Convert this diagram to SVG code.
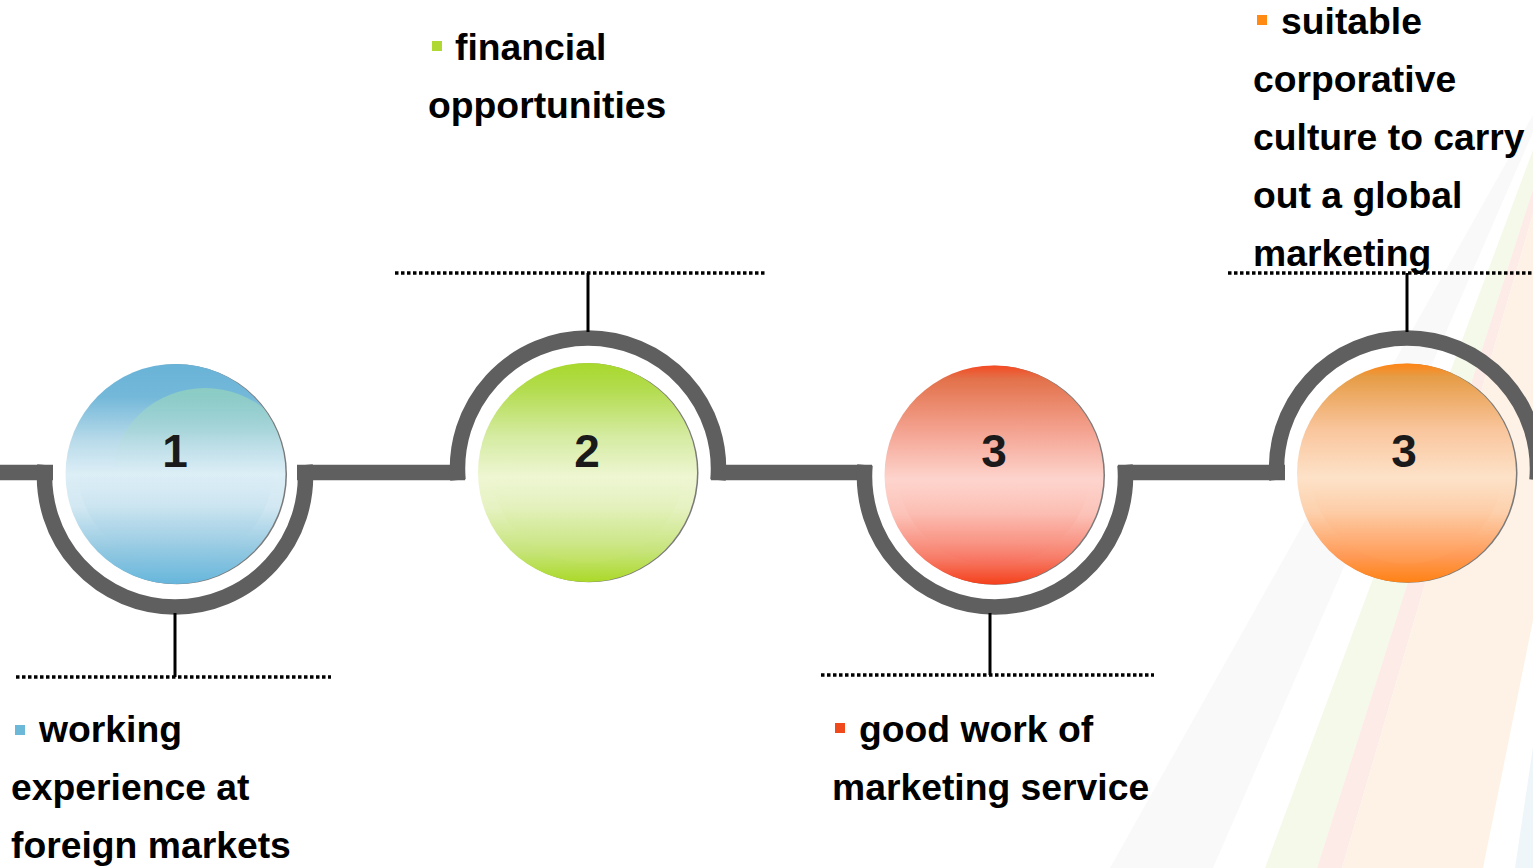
<svg xmlns="http://www.w3.org/2000/svg" width="1533" height="868" viewBox="0 0 1533 868">
  <style>
    .label { font-family: "Liberation Sans", Arial, sans-serif; font-weight: bold; font-size: 37.3px; fill: #000; }
    .num { font-family: "Liberation Sans", Arial, sans-serif; font-weight: bold; font-size: 46px; fill: #1a1a1a; text-anchor: middle; }
    .track { fill: none; stroke: #5f5f5f; stroke-width: 15.5; stroke-linecap: butt; }
    .stem { stroke: #000; stroke-width: 3; }
    .dots { stroke: #000; stroke-width: 3.5; stroke-dasharray: 3.5 2.5; }
    .shadow { fill: #7a7a7a; }
  </style>
  <defs>
    <!-- outer ball gradients -->
    <linearGradient id="gBlue" x1="0" y1="0" x2="0" y2="1">
      <stop offset="0" stop-color="#68b3d8"/>
      <stop offset="0.15" stop-color="#74b8d9"/>
      <stop offset="0.35" stop-color="#b9dbea"/>
      <stop offset="0.5" stop-color="#dceef6"/>
      <stop offset="0.65" stop-color="#d2e8f2"/>
      <stop offset="0.85" stop-color="#92c8e1"/>
      <stop offset="1" stop-color="#66b6dc"/>
    </linearGradient>
    <linearGradient id="gBlueIn" x1="0" y1="0" x2="0" y2="1">
      <stop offset="0" stop-color="#7fbfdc" stop-opacity="0"/>
      <stop offset="0.5" stop-color="#dceef6" stop-opacity="0"/>
      <stop offset="0.85" stop-color="#a5d1e6" stop-opacity="0.6"/>
      <stop offset="1" stop-color="#7dc0df" stop-opacity="0.9"/>
    </linearGradient>
    <linearGradient id="gTint" x1="0" y1="0" x2="0" y2="1">
      <stop offset="0" stop-color="#8fd0bf" stop-opacity="0.85"/>
      <stop offset="0.25" stop-color="#a9d9d0" stop-opacity="0.5"/>
      <stop offset="0.5" stop-color="#dceef6" stop-opacity="0"/>
    </linearGradient>
    <linearGradient id="gGreen" x1="0" y1="0" x2="0" y2="1">
      <stop offset="0" stop-color="#a8d82c"/>
      <stop offset="0.12" stop-color="#b3dc4e"/>
      <stop offset="0.33" stop-color="#d4eba0"/>
      <stop offset="0.52" stop-color="#eef6d2"/>
      <stop offset="0.66" stop-color="#e6f2c2"/>
      <stop offset="0.86" stop-color="#c6e47a"/>
      <stop offset="1" stop-color="#abd928"/>
    </linearGradient>
    <linearGradient id="gGreenIn" x1="0" y1="0" x2="0" y2="1">
      <stop offset="0" stop-color="#b3dc4e" stop-opacity="0"/>
      <stop offset="0.55" stop-color="#eef6d2" stop-opacity="0"/>
      <stop offset="0.88" stop-color="#cfe88f" stop-opacity="0.7"/>
      <stop offset="1" stop-color="#bfe15e" stop-opacity="0.9"/>
    </linearGradient>
    <linearGradient id="gRed" x1="0" y1="0" x2="0" y2="1">
      <stop offset="0" stop-color="#f44a22"/>
      <stop offset="0.06" stop-color="#e2714a"/>
      <stop offset="0.3" stop-color="#f4a391"/>
      <stop offset="0.52" stop-color="#fdd4cd"/>
      <stop offset="0.68" stop-color="#fcc2b8"/>
      <stop offset="0.88" stop-color="#f77c68"/>
      <stop offset="1" stop-color="#f4401b"/>
    </linearGradient>
    <linearGradient id="gRedIn" x1="0" y1="0" x2="0" y2="1">
      <stop offset="0" stop-color="#e2714a" stop-opacity="0"/>
      <stop offset="0.55" stop-color="#fdd4cd" stop-opacity="0"/>
      <stop offset="0.88" stop-color="#f99585" stop-opacity="0.6"/>
      <stop offset="1" stop-color="#f76a55" stop-opacity="0.9"/>
    </linearGradient>
    <linearGradient id="gOrange" x1="0" y1="0" x2="0" y2="1">
      <stop offset="0" stop-color="#ff8414"/>
      <stop offset="0.06" stop-color="#e69c46"/>
      <stop offset="0.3" stop-color="#f9c59c"/>
      <stop offset="0.52" stop-color="#fde2c8"/>
      <stop offset="0.68" stop-color="#fdd0ac"/>
      <stop offset="0.88" stop-color="#ff9a56"/>
      <stop offset="1" stop-color="#ff8214"/>
    </linearGradient>
    <linearGradient id="gOrangeIn" x1="0" y1="0" x2="0" y2="1">
      <stop offset="0" stop-color="#e69c46" stop-opacity="0"/>
      <stop offset="0.55" stop-color="#fde2c8" stop-opacity="0"/>
      <stop offset="0.88" stop-color="#ffad75" stop-opacity="0.6"/>
      <stop offset="1" stop-color="#ff984a" stop-opacity="0.9"/>
    </linearGradient>
    <clipPath id="clipBlue"><circle cx="175.5" cy="474" r="110"/></clipPath>
  </defs>

  <!-- pale fanned stripes in the lower right corner -->
  <g id="background">
    <rect width="1533" height="868" fill="#ffffff"/>
    <polygon points="1110,868 1213,868 1533,132 1533,115" fill="#f9f9f9"/>
    <polygon points="1265,868 1317,868 1533,189 1533,150" fill="#f5f9ea"/>
    <polygon points="1317,868 1342,868 1533,214 1533,189" fill="#fdebe7"/>
    <polygon points="1342,868 1483,868 1533,620 1533,214" fill="#fef2e6"/>
    <polygon points="1515,868 1533,868 1533,747" fill="#eef6fa"/>
  </g>

  <!-- track, stems and dotted label rules -->
  <g id="connectors">
    <path class="track" d="M0,472.5 H53"/>
    <path class="track" d="M45,465 A130.5,130.5 0 1 0 305,465"/>
    <path class="track" d="M297,472.5 H465"/>
    <path class="track" d="M458,480 A130.5,130.5 0 1 1 718,480"/>
    <path class="track" d="M711,472.5 H872"/>
    <path class="track" d="M865,465 A130.5,130.5 0 1 0 1125,465"/>
    <path class="track" d="M1118,472.5 H1285"/>
    <path class="track" d="M1277,480 A130.5,130.5 0 1 1 1537,480"/>

    <line class="stem" x1="175" y1="613" x2="175" y2="677"/>
    <line class="stem" x1="588" y1="273" x2="588" y2="332"/>
    <line class="stem" x1="990" y1="613" x2="990" y2="675"/>
    <line class="stem" x1="1407" y1="273" x2="1407" y2="332"/>

    <line class="dots" x1="16" y1="677" x2="331" y2="677"/>
    <line class="dots" x1="395" y1="273" x2="767" y2="273"/>
    <line class="dots" x1="821" y1="675" x2="1154" y2="675"/>
    <line class="dots" x1="1228" y1="273" x2="1533" y2="273"/>
  </g>

  <g id="node-1">
    <circle class="shadow" cx="177" cy="474.3" r="110"/>
    <circle cx="175.5" cy="474" r="110" fill="url(#gBlue)"/>
    <g clip-path="url(#clipBlue)">
      <ellipse cx="205" cy="476" rx="92" ry="88" fill="url(#gTint)"/>
    </g>
    <circle cx="175.5" cy="468" r="98" fill="url(#gBlueIn)"/>
    <text class="num" x="175" y="467">1</text>
    <rect x="15" y="725" width="10" height="10" fill="#6bb8d9"/>
    <text class="label" x="39" y="742">working</text>
    <text class="label" x="11" y="800">experience at</text>
    <text class="label" x="11" y="858">foreign markets</text>
  </g>

  <g id="node-2">
    <circle class="shadow" cx="589" cy="472.8" r="109.5"/>
    <circle cx="587.5" cy="472.5" r="109.5" fill="url(#gGreen)"/>
    <circle cx="587.5" cy="466" r="97" fill="url(#gGreenIn)"/>
    <text class="num" x="587" y="467">2</text>
    <rect x="432" y="41" width="10" height="10" fill="#b0d832"/>
    <text class="label" x="455" y="59.5">financial</text>
    <text class="label" x="428" y="117.5">opportunities</text>
  </g>

  <g id="node-3">
    <circle class="shadow" cx="995.5" cy="475.3" r="109.5"/>
    <circle cx="994" cy="475" r="109.5" fill="url(#gRed)"/>
    <circle cx="994" cy="468.5" r="97" fill="url(#gRedIn)"/>
    <text class="num" x="994" y="467">3</text>
    <rect x="835" y="723" width="10" height="10" fill="#f04a1c"/>
    <text class="label" x="859" y="742">good work of</text>
    <text class="label" x="832" y="800">marketing service</text>
  </g>

  <g id="node-4">
    <circle class="shadow" cx="1408" cy="473.3" r="109.5"/>
    <circle cx="1406.5" cy="473" r="109.5" fill="url(#gOrange)"/>
    <circle cx="1406.5" cy="466.5" r="97" fill="url(#gOrangeIn)"/>
    <text class="num" x="1404" y="467">3</text>
    <rect x="1257" y="15" width="10" height="10" fill="#ff8a14"/>
    <text class="label" x="1281" y="33.5">suitable</text>
    <text class="label" x="1253" y="91.5">corporative</text>
    <text class="label" x="1253" y="149.5">culture to carry</text>
    <text class="label" x="1253" y="207.5">out a global</text>
    <text class="label" x="1253" y="265.5">marketing</text>
  </g>
</svg>
